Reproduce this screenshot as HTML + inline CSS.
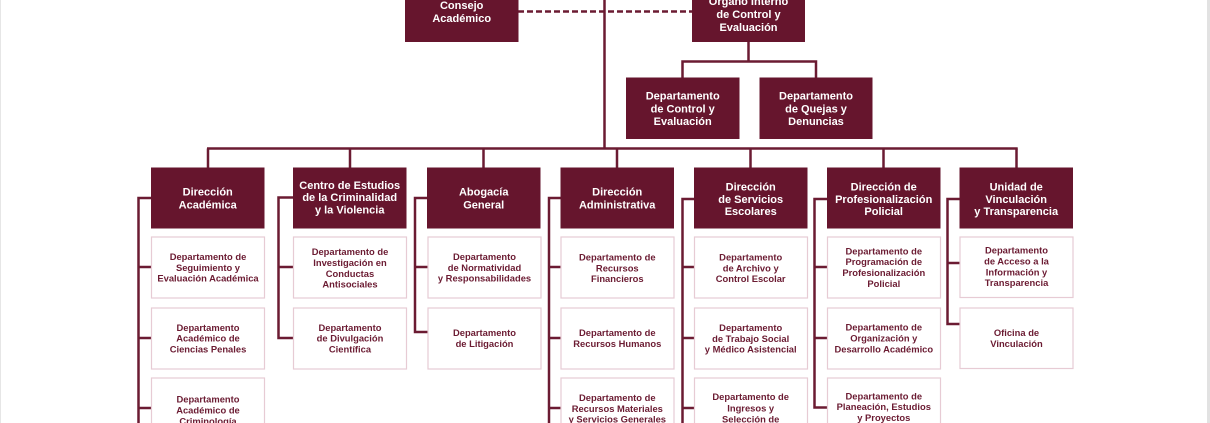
<!DOCTYPE html>
<html><head><meta charset="utf-8"><style>
html,body{margin:0;padding:0;background:#fff;}
svg{display:block;}
text{font-family:"Liberation Sans",Arial,sans-serif;font-weight:bold;}
.h{fill:#fff;font-size:11px;}
.d{fill:#6b1b32;font-size:9.4px;}
</style></head><body>
<svg width="1210" height="423" viewBox="0 0 1210 423" xmlns="http://www.w3.org/2000/svg">
<rect x="0" y="0" width="1210" height="423" fill="#fff"/>
<rect x="0" y="0" width="1" height="423" fill="#e6e6e6"/>
<rect x="1207" y="0" width="3" height="423" fill="#e2e2e2"/>

<g stroke="#6b1b32" stroke-width="2.5" fill="none">
<!-- top connectors -->
<line x1="604.5" y1="-5" x2="604.5" y2="149.5"/>
<line x1="518" y1="11.5" x2="692" y2="11.5" stroke-dasharray="6 3"/>
<line x1="748.5" y1="42" x2="748.5" y2="61.5"/>
<polyline points="682.5,78 682.5,61.5 816,61.5 816,78"/>
<!-- main bus -->
<line x1="207" y1="148.5" x2="1017.7" y2="148.5"/>
<line x1="208" y1="148.5" x2="208" y2="168"/>
<line x1="350" y1="148.5" x2="350" y2="168"/>
<line x1="483.5" y1="148.5" x2="483.5" y2="168"/>
<line x1="617" y1="148.5" x2="617" y2="168"/>
<line x1="750.5" y1="148.5" x2="750.5" y2="168"/>
<line x1="883.5" y1="148.5" x2="883.5" y2="168"/>
<line x1="1016.5" y1="148.5" x2="1016.5" y2="168"/>
<!-- column 1 -->
<polyline points="151,198 138.5,198 138.5,430"/>
<line x1="138.5" y1="267" x2="151" y2="267"/>
<line x1="138.5" y1="338" x2="151" y2="338"/>
<line x1="138.5" y1="408" x2="151" y2="408"/>
<!-- column 2 -->
<polyline points="293,197.5 278.5,197.5 278.5,338 293,338"/>
<line x1="278.5" y1="267" x2="293" y2="267"/>
<!-- column 3 -->
<polyline points="427,198 415,198 415,332 427.5,332"/>
<line x1="415" y1="267" x2="427.5" y2="267"/>
<!-- column 4 -->
<polyline points="560.5,198 549,198 549,430"/>
<line x1="549" y1="267" x2="560.5" y2="267"/>
<line x1="549" y1="338" x2="560.5" y2="338"/>
<line x1="549" y1="408" x2="560.5" y2="408"/>
<!-- column 5 -->
<polyline points="694,199 682.5,199 682.5,430"/>
<line x1="682.5" y1="267" x2="694" y2="267"/>
<line x1="682.5" y1="338" x2="694" y2="338"/>
<line x1="682.5" y1="408" x2="694" y2="408"/>
<!-- column 6 -->
<polyline points="827,199 814.5,199 814.5,407.5 827,407.5"/>
<line x1="814.5" y1="267" x2="827" y2="267"/>
<line x1="814.5" y1="338" x2="827" y2="338"/>
<!-- column 7 -->
<polyline points="959.5,199 947.5,199 947.5,324 959.5,324"/>
<line x1="947.5" y1="263" x2="959.5" y2="263"/>
</g>

<!-- dark boxes -->
<g fill="#66152d">
<rect x="405" y="-18" width="113.5" height="60"/>
<rect x="692" y="-15" width="113" height="57"/>
<rect x="626" y="77.5" width="113.5" height="61.5"/>
<rect x="759.5" y="77.5" width="113" height="61.5"/>
<rect x="151" y="167.5" width="113.5" height="61"/>
<rect x="293" y="167.5" width="113.5" height="61"/>
<rect x="427" y="167.5" width="113.5" height="61"/>
<rect x="560.5" y="167.5" width="113.5" height="61"/>
<rect x="694" y="167.5" width="113.5" height="61"/>
<rect x="827" y="167.5" width="113.5" height="61"/>
<rect x="959.5" y="167.5" width="113.5" height="61"/>
</g>

<!-- light dept boxes -->
<g fill="#fff" stroke="#e7cbd4" stroke-width="1.2">
<rect x="151.5" y="237" width="113" height="61"/>
<rect x="151.5" y="308" width="113" height="61"/>
<rect x="151.5" y="378" width="113" height="61"/>
<rect x="293.5" y="237" width="113" height="61"/>
<rect x="293.5" y="308" width="113" height="61"/>
<rect x="428" y="237" width="113" height="61"/>
<rect x="428" y="308" width="113" height="61"/>
<rect x="561" y="237" width="113" height="61"/>
<rect x="561" y="308" width="113" height="61"/>
<rect x="561" y="378" width="113" height="61"/>
<rect x="694.5" y="237" width="113" height="61"/>
<rect x="694.5" y="308" width="113" height="61"/>
<rect x="694.5" y="378" width="113" height="61"/>
<rect x="827.5" y="237" width="113" height="61"/>
<rect x="827.5" y="308" width="113" height="61"/>
<rect x="827.5" y="378" width="113" height="61"/>
<rect x="960" y="237" width="113" height="60.5"/>
<rect x="960" y="308" width="113" height="60.5"/>
</g>

<!-- top texts -->
<text class="h" text-anchor="middle"><tspan x="461.7" y="8.9">Consejo</tspan><tspan x="461.7" dy="13.2">Académico</tspan></text>
<text class="h" text-anchor="middle"><tspan x="748.5" y="5.2">Órgano Interno</tspan><tspan x="748.5" dy="12.8">de Control y</tspan><tspan x="748.5" dy="12.8">Evaluación</tspan></text>
<text class="h" text-anchor="middle"><tspan x="682.7" y="99.6">Departamento</tspan><tspan x="682.7" dy="12.8">de Control y</tspan><tspan x="682.7" dy="12.8">Evaluación</tspan></text>
<text class="h" text-anchor="middle"><tspan x="816" y="99.6">Departamento</tspan><tspan x="816" dy="12.8">de Quejas y</tspan><tspan x="816" dy="12.8">Denuncias</tspan></text>

<!-- header row texts -->
<text class="h" text-anchor="middle"><tspan x="207.7" y="195.7">Dirección</tspan><tspan x="207.7" dy="12.6">Académica</tspan></text>
<text class="h" text-anchor="middle"><tspan x="349.7" y="188.8">Centro de Estudios</tspan><tspan x="349.7" dy="12.4">de la Criminalidad</tspan><tspan x="349.7" dy="12.4">y la Violencia</tspan></text>
<text class="h" text-anchor="middle"><tspan x="483.7" y="195.7">Abogacía</tspan><tspan x="483.7" dy="12.6">General</tspan></text>
<text class="h" text-anchor="middle"><tspan x="617.2" y="195.7">Dirección</tspan><tspan x="617.2" dy="12.6">Administrativa</tspan></text>
<text class="h" text-anchor="middle"><tspan x="750.7" y="190.5">Dirección</tspan><tspan x="750.7" dy="12.3">de Servicios</tspan><tspan x="750.7" dy="12.3">Escolares</tspan></text>
<text class="h" text-anchor="middle"><tspan x="883.7" y="190.5">Dirección de</tspan><tspan x="883.7" dy="12.3">Profesionalización</tspan><tspan x="883.7" dy="12.3">Policial</tspan></text>
<text class="h" text-anchor="middle"><tspan x="1016.2" y="190.5">Unidad de</tspan><tspan x="1016.2" dy="12.3">Vinculación</tspan><tspan x="1016.2" dy="12.3">y Transparencia</tspan></text>

<!-- dept texts col1 -->
<text class="d" text-anchor="middle"><tspan x="208" y="260.2">Departamento de</tspan><tspan x="208" dy="10.7">Seguimiento y</tspan><tspan x="208" dy="10.7">Evaluación Académica</tspan></text>
<text class="d" text-anchor="middle"><tspan x="208" y="331">Departamento</tspan><tspan x="208" dy="10.7">Académico de</tspan><tspan x="208" dy="10.7">Ciencias Penales</tspan></text>
<text class="d" text-anchor="middle"><tspan x="208" y="402.7">Departamento</tspan><tspan x="208" dy="10.8">Académico de</tspan><tspan x="208" dy="10.8">Criminología</tspan></text>
<!-- col2 -->
<text class="d" text-anchor="middle"><tspan x="350" y="255.2">Departamento de</tspan><tspan x="350" dy="10.8">Investigación en</tspan><tspan x="350" dy="10.8">Conductas</tspan><tspan x="350" dy="10.8">Antisociales</tspan></text>
<text class="d" text-anchor="middle"><tspan x="350" y="331">Departamento</tspan><tspan x="350" dy="10.7">de Divulgación</tspan><tspan x="350" dy="10.7">Científica</tspan></text>
<!-- col3 -->
<text class="d" text-anchor="middle"><tspan x="484.5" y="260.2">Departamento</tspan><tspan x="484.5" dy="10.7">de Normatividad</tspan><tspan x="484.5" dy="10.7">y Responsabilidades</tspan></text>
<text class="d" text-anchor="middle"><tspan x="484.5" y="336.2">Departamento</tspan><tspan x="484.5" dy="10.7">de Litigación</tspan></text>
<!-- col4 -->
<text class="d" text-anchor="middle"><tspan x="617.3" y="260.6">Departamento de</tspan><tspan x="617.3" dy="10.7">Recursos</tspan><tspan x="617.3" dy="10.7">Financieros</tspan></text>
<text class="d" text-anchor="middle"><tspan x="617.3" y="336.2">Departamento de</tspan><tspan x="617.3" dy="10.7">Recursos Humanos</tspan></text>
<text class="d" text-anchor="middle"><tspan x="617.3" y="401.1">Departamento de</tspan><tspan x="617.3" dy="10.7">Recursos Materiales</tspan><tspan x="617.3" dy="10.7">y Servicios Generales</tspan></text>
<!-- col5 -->
<text class="d" text-anchor="middle"><tspan x="750.7" y="260.6">Departamento</tspan><tspan x="750.7" dy="10.7">de Archivo y</tspan><tspan x="750.7" dy="10.7">Control Escolar</tspan></text>
<text class="d" text-anchor="middle"><tspan x="750.7" y="331">Departamento</tspan><tspan x="750.7" dy="10.8">de Trabajo Social</tspan><tspan x="750.7" dy="10.8">y Médico Asistencial</tspan></text>
<text class="d" text-anchor="middle"><tspan x="750.7" y="400.1">Departamento de</tspan><tspan x="750.7" dy="11.2">Ingresos y</tspan><tspan x="750.7" dy="11.2">Selección de</tspan></text>
<!-- col6 -->
<text class="d" text-anchor="middle"><tspan x="883.8" y="254.4">Departamento de</tspan><tspan x="883.8" dy="10.8">Programación de</tspan><tspan x="883.8" dy="10.8">Profesionalización</tspan><tspan x="883.8" dy="10.8">Policial</tspan></text>
<text class="d" text-anchor="middle"><tspan x="883.8" y="330.4">Departamento de</tspan><tspan x="883.8" dy="11">Organización y</tspan><tspan x="883.8" dy="11">Desarrollo Académico</tspan></text>
<text class="d" text-anchor="middle"><tspan x="883.8" y="399.4">Departamento de</tspan><tspan x="883.8" dy="10.8">Planeación, Estudios</tspan><tspan x="883.8" dy="10.8">y Proyectos</tspan></text>
<!-- col7 -->
<text class="d" text-anchor="middle"><tspan x="1016.5" y="253.7">Departamento</tspan><tspan x="1016.5" dy="10.8">de Acceso a la</tspan><tspan x="1016.5" dy="10.8">Información y</tspan><tspan x="1016.5" dy="10.8">Transparencia</tspan></text>
<text class="d" text-anchor="middle"><tspan x="1016.5" y="336.2">Oficina de</tspan><tspan x="1016.5" dy="10.7">Vinculación</tspan></text>
</svg>
</body></html>
